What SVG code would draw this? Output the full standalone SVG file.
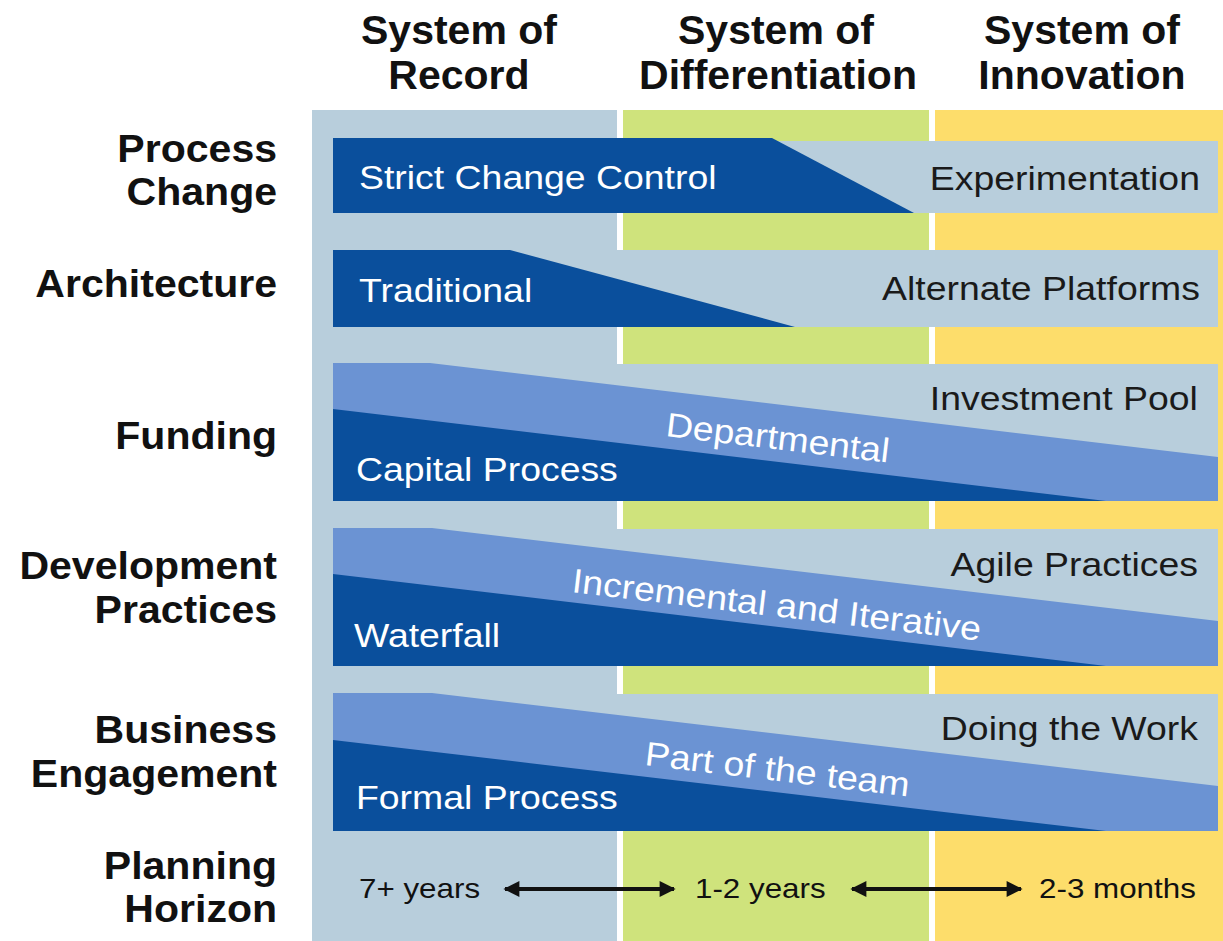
<svg xmlns="http://www.w3.org/2000/svg" width="1223" height="941" viewBox="0 0 1223 941">
<defs>
<style>
text{font-family:"Liberation Sans",Arial,Helvetica,sans-serif}
.hd{font-weight:bold;font-size:41px;fill:#111;text-anchor:middle}
.lb{font-weight:bold;font-size:38px;fill:#111;text-anchor:end}
.bt{font-size:34px}
.ph{font-size:28px;fill:#111}
.w{fill:#fff}
.k{fill:#1a1a1a}
.end{text-anchor:end}
.light{fill:#b8cedc}
.mid{fill:#6b93d3}
.dark{fill:#0a4f9c}
</style>
<marker id="ah" viewBox="0 0 10 10" refX="9" refY="5" markerWidth="4.2" markerHeight="4" orient="auto-start-reverse" markerUnits="strokeWidth">
<path d="M0,0 L10,5 L0,10 Z" fill="#111"/>
</marker>
</defs>
<rect x="0" y="0" width="1223" height="941" fill="#fff"/>
<g id="columns">
<rect x="312" y="110" width="305" height="831" fill="#b8cedc"/>
<rect x="623" y="110" width="306" height="831" fill="#cfe37c"/>
<rect x="935" y="110" width="288" height="831" fill="#fddd6b"/>
</g>
<g id="headers">
<text class="hd" x="459" y="44">System of</text>
<text class="hd" x="459" y="89">Record</text>
<text class="hd" x="776" y="44">System of</text>
<text class="hd" x="778" y="89">Differentiation</text>
<text class="hd" x="1082" y="44">System of</text>
<text class="hd" x="1082" y="89">Innovation</text>
</g>
<g id="row-process-change">
<g transform="scale(1.08,1)">
<text class="lb" x="256.5" y="162">Process</text>
<text class="lb" x="256.5" y="205">Change</text>
</g>
<rect class="light" x="333" y="141" width="885" height="72"/>
<path class="dark" d="M333,138 L772,138 L914,213 L333,213 Z"/>
<text class="bt w" transform="scale(1.1,1)" x="326.4" y="189">Strict Change Control</text>
<text class="bt k end" transform="scale(1.1,1)" x="1090.9" y="190">Experimentation</text>
</g>
<g id="row-architecture">
<g transform="scale(1.08,1)">
<text class="lb" x="256.5" y="297">Architecture</text>
</g>
<rect class="light" x="333" y="250" width="885" height="77"/>
<path class="dark" d="M333,250 L510,250 L795,327 L333,327 Z"/>
<text class="bt w" transform="scale(1.1,1)" x="326.4" y="302">Traditional</text>
<text class="bt k end" transform="scale(1.1,1)" x="1090.9" y="300">Alternate Platforms</text>
</g>
<g id="row-funding">
<g transform="scale(1.08,1)">
<text class="lb" x="256.5" y="449">Funding</text>
</g>
<rect class="light" x="333" y="364" width="885" height="137"/>
<path class="mid" d="M333,363 L430,363 L1218,457 L1218,501 L333,501 Z"/>
<path class="dark" d="M333,409 L1106,501 L333,501 Z"/>
<text class="bt k end" transform="scale(1.1,1)" x="1089" y="410">Investment Pool</text>
<text class="bt w" transform="scale(1.1,1)" x="323.6" y="481">Capital Process</text>
<text class="bt w" transform="translate(665,436) rotate(6.8) scale(1.1,1)" x="0" y="0">Departmental</text>
</g>
<g id="row-development-practices">
<g transform="scale(1.08,1)">
<text class="lb" x="256.5" y="579">Development</text>
<text class="lb" x="256.5" y="623">Practices</text>
</g>
<rect class="light" x="333" y="529" width="885" height="137"/>
<path class="mid" d="M333,528 L432,528 L1218,621 L1218,666 L333,666 Z"/>
<path class="dark" d="M333,574 L1106,666 L333,666 Z"/>
<text class="bt k end" transform="scale(1.1,1)" x="1089" y="576">Agile Practices</text>
<text class="bt w" transform="scale(1.1,1)" x="321.8" y="647">Waterfall</text>
<text class="bt w" transform="translate(571,592) rotate(6.8) scale(1.1,1)" x="0" y="0">Incremental and Iterative</text>
</g>
<g id="row-business-engagement">
<g transform="scale(1.08,1)">
<text class="lb" x="256.5" y="743">Business</text>
<text class="lb" x="256.5" y="787">Engagement</text>
</g>
<rect class="light" x="333" y="694" width="885" height="137"/>
<path class="mid" d="M333,693 L432,693 L1218,786 L1218,831 L333,831 Z"/>
<path class="dark" d="M333,740 L1106,831 L333,831 Z"/>
<text class="bt k end" transform="scale(1.1,1)" x="1089" y="740">Doing the Work</text>
<text class="bt w" transform="scale(1.1,1)" x="323.6" y="809">Formal Process</text>
<text class="bt w" transform="translate(644,765) rotate(6.8) scale(1.1,1)" x="0" y="0">Part of the team</text>
</g>
<g id="row-planning-horizon">
<g transform="scale(1.08,1)">
<text class="lb" x="256.5" y="879">Planning</text>
<text class="lb" x="256.5" y="922">Horizon</text>
</g>
<g transform="scale(1.12,1)">
<text class="ph" x="320.5" y="898">7+ years</text>
<text class="ph" x="620.5" y="898">1-2 years</text>
<text class="ph" x="927.7" y="898">2-3 months</text>
</g>
</g>
<g id="connectors" stroke="#111" stroke-width="4" fill="none">
<line x1="505" y1="889" x2="674" y2="889" marker-start="url(#ah)" marker-end="url(#ah)"/>
<line x1="852" y1="889" x2="1021" y2="889" marker-start="url(#ah)" marker-end="url(#ah)"/>
</g>
</svg>
